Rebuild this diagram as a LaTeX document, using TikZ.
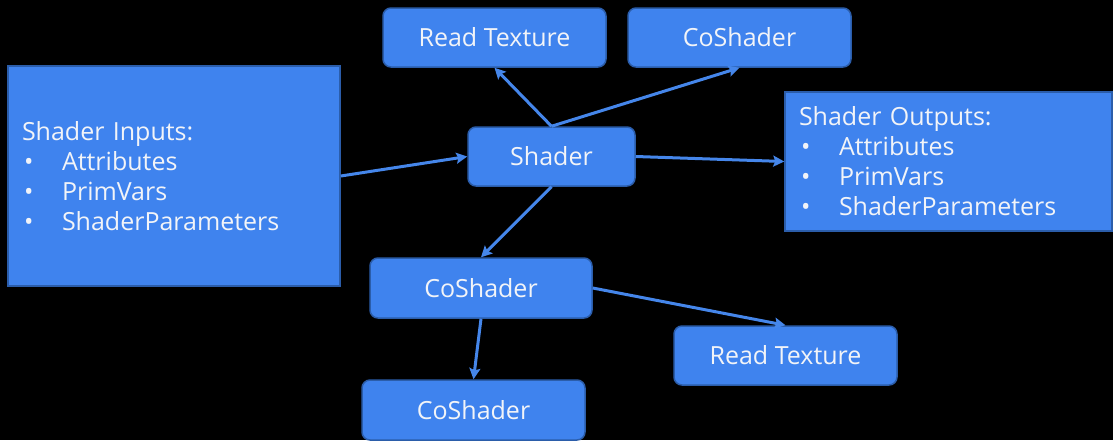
\documentclass[tikz,border=0pt]{standalone}
\usepackage{fontspec}
\setmainfont{Open Sans}
\usetikzlibrary{arrows.meta}
\definecolor{boxfill}{HTML}{3F83EE}
\definecolor{boxline}{HTML}{2B5DAA}
\definecolor{wire}{HTML}{4586EA}
\definecolor{ink}{HTML}{F2F4F8}
\newcommand{\bul}[1]{\makebox[40pt][l]{\hspace{2pt}\textbullet}#1}
\begin{document}
\begin{tikzpicture}[x=1pt,y=-1pt,
  box/.style={draw=boxline, line width=1.5pt, fill=boxfill, text=ink,
    font=\fontsize{25}{30}\selectfont, inner sep=0pt},
  pill/.style={box, rounded corners=8pt},
  panel/.style={box, align=left, inner xsep=14pt},
  link/.style={draw=wire, line width=3pt,
    -{Stealth[length=11pt,width=11pt,inset=2pt]}}]
  % canvas
  \fill[black] (0,0) rectangle (1113,440);
  \useasboundingbox (0,0) rectangle (1113,440);

  % input and output panels
  \node[panel, minimum width=332pt, minimum height=220pt, text width=304pt]
    (inputs) at (174,176)
    {Shader Inputs:\\ \bul{Attributes}\\ \bul{PrimVars}\\ \bul{ShaderParameters}};
  \node[panel, minimum width=327pt, minimum height=139pt, text width=299pt]
    (outputs) at (948.5,161.5)
    {Shader Outputs:\\ \bul{Attributes}\\ \bul{PrimVars}\\ \bul{ShaderParameters}};

  % shader graph nodes
  \node[pill, minimum width=223pt, minimum height=59pt] (readtop) at (494.5,37.5) {Read Texture};
  \node[pill, minimum width=223pt, minimum height=59pt] (cotop) at (739.5,37.5) {CoShader};
  \node[pill, minimum width=167pt, minimum height=59pt] (shader) at (551.5,156.5) {Shader};
  \node[pill, minimum width=222pt, minimum height=60pt] (comid) at (481,288) {CoShader};
  \node[pill, minimum width=223pt, minimum height=59pt] (readlow) at (785.5,355.5) {Read Texture};
  \node[pill, minimum width=223pt, minimum height=60pt] (colow) at (473.5,410) {CoShader};

  % connections
  \draw[link] (inputs.east) -- (shader.west);
  \draw[link] (shader.north) -- (readtop.south);
  \draw[link] (shader.north) -- (cotop.south);
  \draw[link] (shader.east) -- (outputs.west);
  \draw[link] (shader.south) -- (comid.north);
  \draw[link] (comid.east) -- (readlow.north);
  \draw[link] (comid.south) -- (colow.north);
\end{tikzpicture}
\end{document}
